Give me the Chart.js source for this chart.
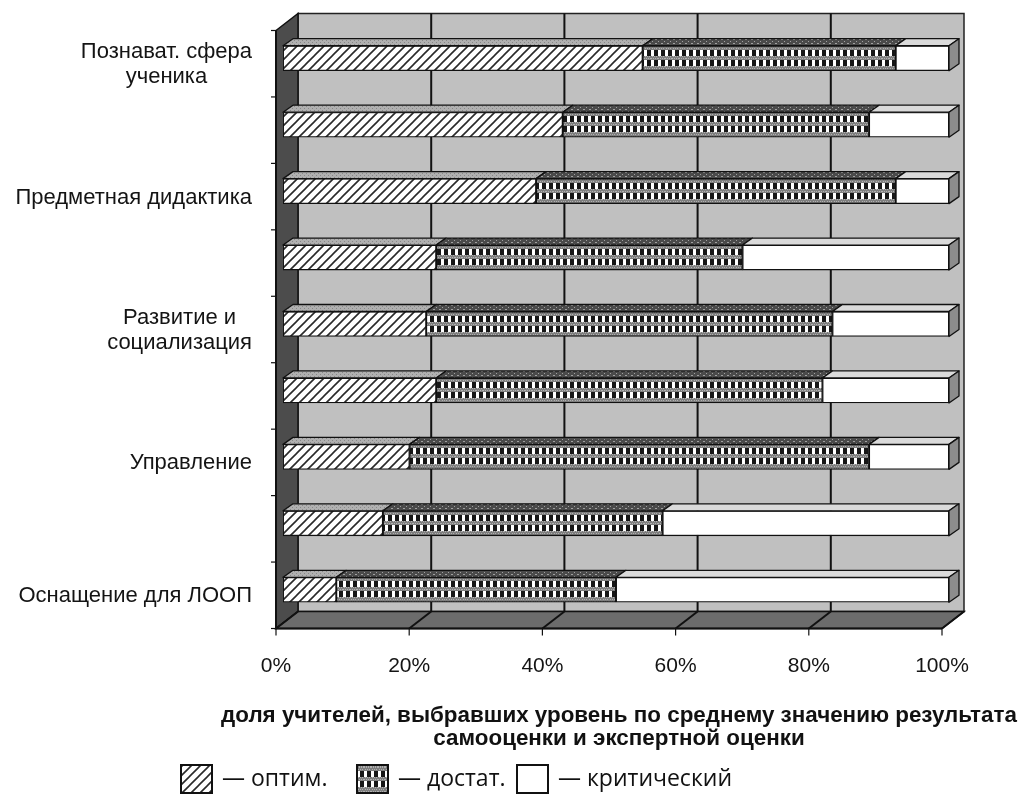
<!DOCTYPE html>
<html>
<head>
<meta charset="utf-8">
<script src="https://cdn.jsdelivr.net/npm/chart.js@4.4.1/dist/chart.umd.min.js"></script>
<style>
  html, body { margin: 0; background: #fff; }
  #wrap { width: 1023px; height: 809px; position: relative; }
</style>
</head>
<body>
<div id="wrap"><canvas id="chart"></canvas></div>
<script>
// data (percent of teachers)
const categories = [['Познават. сфера', 'ученика'], '', 'Предметная дидактика', '', ['Развитие и', 'социализация'], '', 'Управление', '', 'Оснащение для ЛООП'];
const optim    = [54, 42, 38, 23, 21.5, 23, 19, 15, 8];
const dostat   = [38, 46, 54, 46, 61, 58, 69, 42, 42];
const critical = [8, 12, 8, 31, 17.5, 19, 12, 43, 50];
const seriesNames = ['— оптим.', '— достат.', '— критический'];
const xTicks = [0, 20, 40, 60, 80, 100];
const axisTitle = ['доля учителей, выбравших уровень по среднему значению результата', 'самооценки и экспертной оценки'];

// 3d offsets
const FRONT = { dx: -7, dy: 5.5 };   // floor front edge relative to bar faces
const DEPTH = { dx: 22, dy: -17 };   // floor/wall depth
const BARD = { dx: 10, dy: -7 };     // bar depth
const BAR_H = 25;

function tile(w, h, draw) {
  const c = document.createElement('canvas');
  c.width = w; c.height = h;
  draw(c.getContext('2d'), w, h);
  return c;
}

const hatchTile = tile(9, 9, g => {
  g.fillStyle = '#fff'; g.fillRect(0, 0, 9, 9);
  g.strokeStyle = '#2a2a2a'; g.lineWidth = 1.6;
  g.beginPath();
  g.moveTo(-1, 10); g.lineTo(10, -1);
  g.moveTo(-1, 1); g.lineTo(1, -1);
  g.moveTo(8, 10); g.lineTo(10, 8);
  g.stroke();
});

const dotsTile = tile(7, 25, g => {
  g.fillStyle = '#7e7e7e'; g.fillRect(0, 0, 7, 25);
  g.fillStyle = '#b0b0b0';
  for (let y = 0; y < 25; y += 2) for (let x = (y / 2) % 2; x < 7; x += 2) g.fillRect(x, y, 1, 1);
  g.fillStyle = '#fff'; g.fillRect(0, 4, 3, 6); g.fillRect(0, 14, 3, 6);
  g.fillStyle = '#161616'; g.fillRect(3, 4, 4, 6); g.fillRect(3, 14, 4, 6);
});

const topDotsTile = tile(6, 4, g => {
  g.fillStyle = '#4a4a4a'; g.fillRect(0, 0, 6, 4);
  g.fillStyle = '#a0a0a0'; g.fillRect(1, 1, 2, 1); g.fillRect(4, 3, 1, 1);
});

const topHatchTile = tile(4, 4, g => {
  g.fillStyle = '#b0b0b0'; g.fillRect(0, 0, 4, 4);
  g.fillStyle = '#888'; g.fillRect(0, 0, 1, 1); g.fillRect(2, 2, 1, 1);
});

function patternAt(ctx, t, x, y) {
  const p = ctx.createPattern(t, 'repeat');
  p.setTransform(new DOMMatrix().translate(x, y));
  return p;
}

function barFill(t, plain) {
  return c => {
    if (c.type !== 'data') return plain;
    const y = c.chart.scales.y.getPixelForValue(c.dataIndex) - BAR_H / 2;
    return patternAt(c.chart.ctx, t, 0, Math.round(y));
  };
}

function poly(ctx, pts, fill, stroke, lw) {
  ctx.beginPath();
  ctx.moveTo(pts[0][0], pts[0][1]);
  for (let i = 1; i < pts.length; i++) ctx.lineTo(pts[i][0], pts[i][1]);
  ctx.closePath();
  if (fill) { ctx.fillStyle = fill; ctx.fill(); }
  if (stroke) { ctx.strokeStyle = stroke; ctx.lineWidth = lw || 1.5; ctx.stroke(); }
}

function line(ctx, x0, y0, x1, y1, lw) {
  ctx.beginPath();
  ctx.moveTo(x0, y0); ctx.lineTo(x1, y1);
  ctx.strokeStyle = '#111'; ctx.lineWidth = lw || 2;
  ctx.stroke();
}

const box3d = {
  id: 'box3d',
  beforeDatasetsDraw(chart) {
    const { ctx, chartArea: a, scales } = chart;
    const fl = a.left + FRONT.dx, fr = a.right + FRONT.dx, ft = a.top + FRONT.dy, fb = a.bottom + FRONT.dy;
    const bl = fl + DEPTH.dx, br = fr + DEPTH.dx, bt = ft + DEPTH.dy, bb = fb + DEPTH.dy;
    ctx.save();
    // back wall
    poly(ctx, [[bl, bt], [br, bt], [br, bb], [bl, bb]], '#c0c0c0', '#222', 1.5);
    // left wall
    poly(ctx, [[fl, ft], [bl, bt], [bl, bb], [fl, fb]], '#4c4c4c', '#111', 1.5);
    // floor
    poly(ctx, [[fl, fb], [bl, bb], [br, bb], [fr, fb]], '#6c6c6c', '#111', 1.5);
    // grid lines on wall and floor
    xTicks.forEach(v => {
      const x = scales.x.getPixelForValue(v) + FRONT.dx;
      if (v > 0 && v < 100) line(ctx, x + DEPTH.dx, bt, x + DEPTH.dx, bb, 2);
      line(ctx, x + DEPTH.dx, bb, x, fb, 2);
      line(ctx, x, fb, x, fb + 7, 1.2);
    });
    line(ctx, fl, fb, fr, fb, 2);
    // left axis with category ticks
    line(ctx, fl, ft, fl, fb, 2);
    for (let k = 0; k <= categories.length; k++) {
      const y = scales.y.getPixelForValue(k - 0.5) + FRONT.dy;
      line(ctx, fl - 5, y, fl, y, 1.2);
    }
    ctx.restore();
  },
  afterDatasetsDraw(chart) {
    const ctx = chart.ctx;
    const tops = [
      y => patternAt(ctx, topHatchTile, 0, y),
      y => patternAt(ctx, topDotsTile, 0, y),
      () => '#dadada'
    ];
    ctx.save();
    ctx.lineJoin = 'round';
    categories.forEach((_, i) => {
      [0, 1, 2].forEach(d => {
        const el = chart.getDatasetMeta(d).data[i];
        const p = el.getProps(['x', 'y', 'base', 'height'], true);
        const x0 = Math.min(p.base, p.x), x1 = Math.max(p.base, p.x);
        const yT = p.y - p.height / 2, yB = p.y + p.height / 2;
        poly(ctx, [[x0, yT], [x0 + BARD.dx, yT + BARD.dy], [x1 + BARD.dx, yT + BARD.dy], [x1, yT]],
          tops[d](Math.round(yT)), '#111', 1.3);
        if (d === 2) {
          poly(ctx, [[x1, yT], [x1 + BARD.dx, yT + BARD.dy], [x1 + BARD.dx, yB + BARD.dy], [x1, yB]],
            '#8c8c8c', '#111', 1.3);
        }
      });
    });
    ctx.restore();
  },
  afterDraw(chart) {
    const { ctx, scales } = chart;
    ctx.save();
    // category labels: block right-aligned, lines centred inside the block
    ctx.font = '22px "Liberation Sans", Arial, sans-serif';
    ctx.fillStyle = '#141414';
    ctx.textBaseline = 'middle';
    ctx.textAlign = 'center';
    const right = 252, lh = 25;
    categories.forEach((lab, i) => {
      const lines = Array.isArray(lab) ? lab : [lab];
      if (!lines[0]) return;
      const w = Math.max(...lines.map(s => ctx.measureText(s).width));
      const cy = scales.y.getPixelForValue(i) + FRONT.dy + 1;
      lines.forEach((s, j) => {
        ctx.fillText(s, right - w / 2, cy + (j - (lines.length - 1) / 2) * lh);
      });
    });
    // x axis title (two lines, wider than the plot)
    ctx.font = 'bold 22.4px "Liberation Sans", Arial, sans-serif';
    ctx.fillStyle = '#111';
    axisTitle.forEach((s, j) => ctx.fillText(s, 619, 716 + j * 23));
    // legend
    const sw = [[181, hatchTile], [357, dotsTile], [517, null]];
    const top = 765, h = 28, w = 31;
    ctx.font = '23px "Open Sans", sans-serif';
    ctx.textAlign = 'left';
    sw.forEach(([x, t], k) => {
      poly(ctx, [[x, top], [x + w, top], [x + w, top + h], [x, top + h]],
        t ? patternAt(ctx, t, x, top + 2) : '#fff', '#111', 2);
      ctx.fillStyle = '#111';
      ctx.fillText(seriesNames[k], x + w + 10, top + h / 2);
    });
    ctx.restore();
  }
};

const chart = new Chart(document.getElementById('chart'), {
  type: 'bar',
  data: {
    labels: categories,
    datasets: [
      { label: seriesNames[0], data: optim, backgroundColor: barFill(hatchTile, '#fff') },
      { label: seriesNames[1], data: dostat, backgroundColor: barFill(dotsTile, '#888') },
      { label: seriesNames[2], data: critical, backgroundColor: '#fff' }
    ].map(ds => Object.assign(ds, {
      borderColor: '#111', borderWidth: 1.3, borderSkipped: false, barThickness: BAR_H
    }))
  },
  options: {
    indexAxis: 'y',
    responsive: true,
    maintainAspectRatio: false,
    animation: false,
    events: [],
    layout: { padding: { top: 25, right: 74, bottom: 0, left: 0 } },
    plugins: { legend: { display: false }, tooltip: { enabled: false } },
    scales: {
      x: {
        stacked: true, min: 0, max: 100,
        grid: { display: false }, border: { display: false },
        ticks: {
          stepSize: 20, padding: 23, labelOffset: FRONT.dx, maxRotation: 0, autoSkip: false,
          color: '#141414', font: { family: '"Liberation Sans", Arial, sans-serif', size: 21 },
          callback: v => v + '%'
        },
        afterFit: s => { s.height = 186; }
      },
      y: {
        stacked: true,
        grid: { display: false }, border: { display: false },
        ticks: { display: false },
        afterFit: s => { s.width = 283; }
      }
    }
  },
  plugins: [box3d]
});
</script>
</body>
</html>
